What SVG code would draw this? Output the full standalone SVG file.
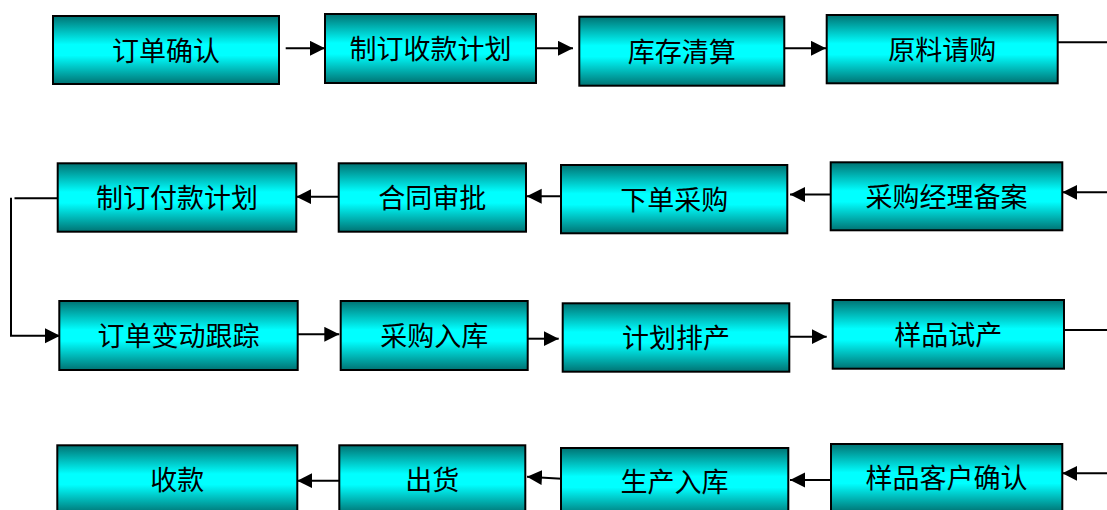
<svg xmlns="http://www.w3.org/2000/svg" width="1107" height="510" viewBox="0 0 1107 510">
<style>
.box rect{fill:url(#g);stroke:#000;stroke-width:2}
.box text{font-family:"Noto Sans CJK SC","Noto Sans CJK JP",sans-serif;font-size:27px;fill:#000;text-anchor:middle;dominant-baseline:central}
#connectors line,#connectors polyline{stroke:#000;stroke-width:2;fill:none}
.a{marker-end:url(#ah)}
</style>
<defs>
<linearGradient id="g" x1="0" y1="0" x2="0" y2="1">
<stop offset="0" stop-color="#007373"/>
<stop offset="0.42" stop-color="#00ffff"/>
<stop offset="0.58" stop-color="#00ffff"/>
<stop offset="1" stop-color="#007373"/>
</linearGradient>
<marker id="ah" markerUnits="userSpaceOnUse" markerWidth="16" markerHeight="16" refX="15" refY="7.5" orient="auto">
<path d="M0,0 L15,7.5 L0,15 z" fill="#000"/>
</marker>
</defs>
<rect width="1107" height="510" fill="#fff"/>
<g id="connectors">
<line class="a" x1="285.7" y1="48.3" x2="325" y2="48.3"/>
<line class="a" x1="536.7" y1="48.3" x2="573" y2="48.3"/>
<line class="a" x1="782.7" y1="48.3" x2="826" y2="48.3"/>
<line x1="1055" y1="42.3" x2="1107" y2="42.3"/>
<line class="a" x1="1107" y1="192.3" x2="1062.3" y2="192.3"/>
<line class="a" x1="831" y1="194.6" x2="790" y2="194.6"/>
<line class="a" x1="561" y1="196.3" x2="526.7" y2="196.3"/>
<line class="a" x1="338.7" y1="196.7" x2="296.3" y2="196.7"/>
<line x1="57.7" y1="198.3" x2="14.5" y2="198.3"/>
<polyline class="a" points="11,197.7 11,335.7 60,335.7"/>
<line class="a" x1="294" y1="334.3" x2="339.3" y2="334.3"/>
<line class="a" x1="527.7" y1="338.7" x2="558.7" y2="338.7"/>
<line class="a" x1="786.7" y1="336.7" x2="826.7" y2="336.7"/>
<line x1="1064" y1="330" x2="1107" y2="330"/>
<line class="a" x1="1107" y1="473.3" x2="1062.3" y2="473.3"/>
<line class="a" x1="835" y1="480" x2="790" y2="480"/>
<line class="a" x1="561.7" y1="478.7" x2="527" y2="476.7"/>
<line class="a" x1="339.3" y1="480.7" x2="297.3" y2="480.7"/>
</g>
<g id="n1" class="box"><rect x="53" y="16" width="226" height="68"/><text x="166" y="49">订单确认</text></g>
<g id="n2" class="box"><rect x="325" y="14" width="211" height="69"/><text x="430.5" y="47">制订收款计划</text></g>
<g id="n3" class="box"><rect x="579.3" y="16.7" width="205" height="69"/><text x="681.8" y="50">库存清算</text></g>
<g id="n4" class="box"><rect x="826.7" y="15" width="231" height="68.3"/><text x="942.2" y="48">原料请购</text></g>
<g id="n5" class="box"><rect x="830.7" y="162.3" width="231.6" height="68"/><text x="946.5" y="195">采购经理备案</text></g>
<g id="n6" class="box"><rect x="561" y="165" width="226.3" height="68.3"/><text x="674.2" y="198">下单采购</text></g>
<g id="n7" class="box"><rect x="338.7" y="163.3" width="187.3" height="68.4"/><text x="432.3" y="196">合同审批</text></g>
<g id="n8" class="box"><rect x="57.7" y="163.3" width="238.6" height="68.4"/><text x="177" y="196">制订付款计划</text></g>
<g id="n9" class="box"><rect x="59.3" y="301" width="238.4" height="69"/><text x="178.5" y="334">订单变动跟踪</text></g>
<g id="n10" class="box"><rect x="340.7" y="301" width="187" height="69"/><text x="434.2" y="334">采购入库</text></g>
<g id="n11" class="box"><rect x="562.7" y="303.3" width="226.6" height="68.4"/><text x="676" y="336">计划排产</text></g>
<g id="n12" class="box"><rect x="832.7" y="300" width="231.3" height="68.7"/><text x="948.3" y="333">样品试产</text></g>
<g id="n13" class="box"><rect x="831" y="444" width="231.3" height="68"/><text x="946.6" y="476">样品客户确认</text></g>
<g id="n14" class="box"><rect x="561" y="448" width="227.3" height="68"/><text x="674.6" y="480">生产入库</text></g>
<g id="n15" class="box"><rect x="339.3" y="445.3" width="186" height="68"/><text x="432.3" y="478">出货</text></g>
<g id="n16" class="box"><rect x="57.3" y="445.3" width="240" height="68"/><text x="177.3" y="478">收款</text></g>
</svg>
